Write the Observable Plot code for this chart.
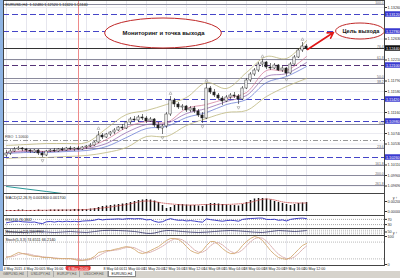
<!DOCTYPE html>
<html><head><meta charset="utf-8">
<script src="https://cdn.jsdelivr.net/npm/d3@7"></script>
<script src="https://cdn.jsdelivr.net/npm/@observablehq/plot@0.6"></script>
<style>
body{margin:0;background:#fff;}
#c{position:relative;width:400px;height:278px;overflow:hidden;background:#fff;font-family:"Liberation Sans",Arial,sans-serif;}
#c > svg, #c > div{position:absolute;left:0;}
#tabs{top:271px;height:7px;width:400px;background:#d6d3cc;display:flex;font-size:3.6px;color:#555;}
#tabs span{display:block;height:6px;line-height:6px;border-right:1px solid #aaa;padding:0 3px;box-sizing:border-box;}
#tabs span.act{background:#fff;color:#111;border:1px solid #888;border-top:none;}
#strip{top:0;left:0;width:3px;height:271px;background:#8fb4e3;z-index:5;}
</style></head><body><div id="c"></div>
<script>
// ---------- price data (EURUSD H4) ----------
const open=[1.1030,1.1034,1.1038,1.1042,1.1044,1.1042,1.1040,1.1036,1.1040,1.1034,
1.1030,1.1038,1.1040,1.1038,1.1042,1.1040,1.1044,1.1042,1.1044,1.1042,
1.1046,1.1048,1.1050,1.1056,1.1070,1.1066,1.1072,1.1076,1.1080,1.1086,
1.1084,1.1096,1.1102,1.1100,1.1106,1.1104,1.1098,1.1102,1.1090,1.1084,
1.1088,1.1112,1.1140,1.1132,1.1126,1.1128,1.1120,1.1124,1.1118,1.1110,
1.1104,1.1164,1.1156,1.1150,1.1144,1.1138,1.1146,1.1150,1.1148,1.1142,
1.1164,1.1180,1.1192,1.1200,1.1212,1.1216,1.1206,1.1204,1.1210,1.1200,
1.1204,1.1194,1.1212,1.1226,1.1240,1.1248];
const high=[1.1040,1.1042,1.1046,1.1048,1.1046,1.1044,1.1042,1.1042,1.1042,1.1038,
1.1040,1.1042,1.1044,1.1044,1.1046,1.1046,1.1048,1.1046,1.1048,1.1048,
1.1050,1.1054,1.1058,1.1078,1.1074,1.1074,1.1078,1.1084,1.1088,1.1092,
1.1098,1.1106,1.1108,1.1110,1.1112,1.1108,1.1106,1.1104,1.1096,1.1092,
1.1116,1.1148,1.1144,1.1136,1.1132,1.1130,1.1128,1.1128,1.1122,1.1116,
1.1174,1.1168,1.1162,1.1154,1.1148,1.1150,1.1154,1.1156,1.1152,1.1168,
1.1184,1.1196,1.1204,1.1216,1.1222,1.1218,1.1214,1.1214,1.1212,1.1208,
1.1206,1.1216,1.1230,1.1244,1.1256,1.1252];
const low=[1.1026,1.1030,1.1036,1.1040,1.1038,1.1036,1.1034,1.1034,1.1030,1.1026,
1.1028,1.1036,1.1036,1.1036,1.1038,1.1038,1.1040,1.1038,1.1040,1.1040,
1.1042,1.1046,1.1048,1.1054,1.1062,1.1064,1.1068,1.1072,1.1078,1.1080,
1.1082,1.1092,1.1098,1.1096,1.1100,1.1094,1.1096,1.1086,1.1080,1.1072,
1.1084,1.1108,1.1126,1.1122,1.1120,1.1116,1.1116,1.1114,1.1106,1.1094,
1.1102,1.1152,1.1146,1.1140,1.1130,1.1136,1.1142,1.1144,1.1132,1.1140,
1.1162,1.1176,1.1188,1.1196,1.1206,1.1202,1.1200,1.1202,1.1198,1.1196,
1.1188,1.1192,1.1210,1.1224,1.1236,1.1240];
const close=[1.1034,1.1038,1.1042,1.1044,1.1042,1.1040,1.1038,1.1040,1.1034,1.1030,
1.1038,1.1040,1.1038,1.1042,1.1040,1.1044,1.1042,1.1044,1.1042,1.1046,
1.1048,1.1050,1.1056,1.1070,1.1066,1.1072,1.1076,1.1080,1.1086,1.1084,
1.1096,1.1102,1.1100,1.1106,1.1104,1.1098,1.1102,1.1090,1.1084,1.1088,
1.1112,1.1140,1.1132,1.1126,1.1128,1.1120,1.1124,1.1118,1.1110,1.1104,
1.1164,1.1156,1.1150,1.1144,1.1138,1.1146,1.1150,1.1148,1.1142,1.1164,
1.1180,1.1192,1.1200,1.1212,1.1216,1.1206,1.1204,1.1210,1.1200,1.1204,
1.1194,1.1212,1.1226,1.1240,1.1248,1.1244];

// indicator lines sampled every 5 bars
const ind5=[0,5,10,15,20,25,30,35,40,45,50,55,60,65,70,75];
const maFast=[1.1036,1.1040,1.1038,1.1042,1.1046,1.1062,1.1086,1.1098,1.1096,1.1124,1.1132,1.1144,1.1156,1.1200,1.1200,1.1228];
const maMid=[1.1036,1.1038,1.1038,1.1040,1.1044,1.1054,1.1076,1.1092,1.1094,1.1114,1.1124,1.1138,1.1150,1.1188,1.1194,1.1216];
const maSlow=[1.1034,1.1036,1.1036,1.1038,1.1040,1.1048,1.1066,1.1084,1.1088,1.1106,1.1116,1.1132,1.1142,1.1176,1.1188,1.1208];
const bbUpper=[1.1050,1.1052,1.1054,1.1054,1.1056,1.1084,1.1112,1.1120,1.1132,1.1146,1.1176,1.1164,1.1196,1.1228,1.1224,1.1260];
const bbLower=[1.1024,1.1026,1.1026,1.1028,1.1030,1.1036,1.1046,1.1068,1.1068,1.1090,1.1104,1.1116,1.1120,1.1148,1.1168,1.1184];
const longMaIdx=[0,5,10,14];
const longMa=[1.0968,1.0963,1.0958,1.0954];

// horizontal levels
const solidLevels=[1.1332,1.1222,1.1184,1.1174,1.1092,1.1044,1.1010,1.0990,1.0970];
const blueDashLevels=[1.1312,1.1278,1.1142,1.1098,1.1026];
const purpleDashLevels=[1.1210];
const dashDotLevels=[1.1060];
const bidPrice=1.1244;
const fibPrices=[1.1332,1.1244,1.1222,1.1184,1.1174,1.1092,1.1044,1.1010,1.0990,1.0970];
const fibNames=["100.0","76.4","61.8","50.0","38.2","0.0","23.6","161.8","200.0","261.8"];
const priceTicks=[1.1326,1.1263,1.1221,1.1179,1.1158,1.1116,1.1074,1.1053,1.1011,1.0990,1.0969];
const markedPrices=[1.1312,1.1278,1.1210,1.1142,1.1098,1.1026,1.1244];
const markedColors=["#3a3ad0","#3a3ad0","#3a3ad0","#3a3ad0","#3a3ad0","#3a3ad0","#111111"];
const upFractals=[23,41,50,64,74];
const downFractals=[9,39,49,58,70];

// oscillators
const macdHist=[0.0002,0.0002,0.0002,0.0003,0.0003,0.0002,0.0002,0.0002,
0.0003,0.0002,0.0002,0.0003,0.0003,0.0003,0.0003,0.0003,
0.0003,0.0004,0.0004,0.0004,0.0004,0.0005,0.0006,
0.0008,0.0010,0.0011,0.0012,0.0013,0.0014,0.0015,0.0016,
0.0018,0.0020,0.0022,0.0023,0.0024,0.0023,
0.0021,0.0018,0.0012,0.0006,
0.0008,0.0012,0.0014,0.0014,0.0013,0.0012,0.0012,0.0011,0.0010,
0.0014,0.0016,0.0016,0.0015,0.0014,0.0013,0.0012,0.0012,0.0011,
0.0014,0.0018,0.0022,0.0025,0.0026,0.0026,
0.0025,0.0023,0.0020,0.0018,0.0016,0.0014,0.0012,
0.0014,0.0016,0.0017,0.0018];
const macdSignal=[0.0002,0.0002,0.00026,0.0003,0.0004,0.0008,0.0014,0.0021,0.0016,0.0013,0.0014,0.0014,0.0017,0.0025,0.0018,0.0017];
const rsi=[44,50,54,56,52,50,48,50,42,38,
52,54,50,55,52,56,53,55,52,57,
59,60,64,72,66,70,71,72,74,71,
75,76,74,76,74,66,69,55,48,52,
66,76,68,63,64,58,61,57,52,49,
74,68,64,60,56,61,63,61,56,70,
74,77,78,80,80,70,69,71,63,66,
58,70,75,78,80,76];
const momIdx=[0,4,8,12,16,20,24,28,32,36,40,44,48,52,56,60,64,68,72,75];
const mom=[57,43,57,43,57,43,71,71,57,29,71,57,43,57,71,57,43,71,57,71];
const stochK=[25,29,36,43,39,36,32,29,29,25,
25,25,21,21,21,21,21,18,14,14,
18,21,29,43,46,50,50,54,57,61,
64,61,54,43,39,43,50,57,64,75,
86,93,93,89,79,64,50,43,39,50,
68,82,82,71,57,46,39,39,50,68,
82,93,100,96,86,68,50,36,25,21,
18,25,39,54,68,75];
const stochD=[28,27,30,36,39,39,36,32,30,28,
26,25,24,22,21,21,21,20,18,16,
15,18,23,31,39,46,49,51,53,57,
61,62,60,53,46,41,44,50,57,65,
75,85,91,92,88,78,65,52,44,44,
52,67,77,78,70,58,47,41,43,52,
67,81,92,96,94,84,68,51,37,27,
21,21,27,39,54,66];

// time axis (labels under the red separator label are hidden in the original)
const gridIdx=[0,5,10,15,20,25,30,35,40,45,50,55,60,65,70,75];
const timeIdx=[0,5,10,25,30,35,40,45,50,55,60,65,70,75];
const timeLabels=["4 May 2015","4 May 20:00","5 May 16:00","8 May 04:00","11 May 00:00","11 May 20:00","12 May 16:00","13 May 12:00","14 May 08:00","15 May 04:00","18 May 00:00","18 May 20:00","19 May 16:00","20 May 12:00"];
const sepIdx=18;
const sepLabel="6 May 20:00";
const tabNames=["GBPUSD,H4","USDJPY,H4","EURJPY,H4","USDCHF,H4","EURUSD,H4"];

// ---------- build ----------
const X=[-0.75,94.5];
const FONT="Liberation Sans, Arial, sans-serif";
const candles=open.map((o,i)=>({i,o,h:high[i],l:low[i],c:close[i],up:close[i]>=o}));
const pts=(idx,vals)=>idx.map((x,k)=>({x,y:vals[k]}));
const c=document.getElementById("c");

const baseStyle={fontFamily:FONT,fontSize:"3.8px",background:"transparent",color:"#333",overflow:"visible"};

const main=Plot.plot({
  width:400,height:193,marginLeft:3,marginRight:16,marginTop:0,marginBottom:0,
  x:{domain:X,axis:null},
  y:{domain:[1.0954,1.1340],axis:"right",ticks:priceTicks,tickFormat:d=>d.toFixed(5),tickSize:2,tickPadding:1},
  style:baseStyle,
  marks:[
    Plot.ruleX(gridIdx,{stroke:"#e6e6ee"}),
    Plot.ruleY(priceTicks,{stroke:"#ebebf1"}),
    Plot.ruleY(solidLevels,{stroke:"#8a8a9c"}),
    Plot.ruleY(blueDashLevels,{stroke:"#4545c8",strokeDasharray:"6,3"}),
    Plot.ruleY(purpleDashLevels,{stroke:"#553377",strokeDasharray:"6,3"}),
    Plot.ruleY(dashDotLevels,{stroke:"#999",strokeDasharray:"5,2,1,2"}),
    Plot.ruleY([bidPrice],{stroke:"#333",strokeWidth:1.2}),
    Plot.ruleX([sepIdx],{stroke:"#ee8a8a"}),
    Plot.line(pts(longMaIdx,longMa),{x:"x",y:"y",stroke:"#2a9a9a",strokeWidth:1,clip:true}),
    Plot.line(pts(ind5,bbUpper),{x:"x",y:"y",stroke:"#bdb67c",curve:"catmull-rom",strokeWidth:0.8}),
    Plot.line(pts(ind5,bbLower),{x:"x",y:"y",stroke:"#bdb67c",curve:"catmull-rom",strokeWidth:0.8}),
    Plot.line(pts(ind5,maSlow),{x:"x",y:"y",stroke:"#5a6fd0",curve:"catmull-rom",strokeWidth:0.7}),
    Plot.line(pts(ind5,maMid),{x:"x",y:"y",stroke:"#8a5aa8",curve:"catmull-rom",strokeWidth:0.7}),
    Plot.line(pts(ind5,maFast),{x:"x",y:"y",stroke:"#d07090",curve:"catmull-rom",strokeWidth:0.7}),
    Plot.ruleX(candles,{x:"i",y1:"l",y2:"h",stroke:"#222",strokeWidth:0.6}),
    Plot.rect(candles,{x1:d=>d.i-0.28,x2:d=>d.i+0.28,y1:"o",y2:"c",fill:d=>d.up?"#fff":"#222",stroke:"#222",strokeWidth:0.5}),
    Plot.dot(upFractals,{x:d=>d,y:d=>high[d],dy:-3,symbol:"triangle",r:1.1,stroke:"#888",fill:"none",strokeWidth:0.5}),
    Plot.dot(downFractals,{x:d=>d,y:d=>low[d],dy:3,symbol:"triangle",rotate:180,r:1.1,stroke:"#888",fill:"none",strokeWidth:0.5}),
    Plot.text(fibPrices,{x:94.3,y:d=>d,text:(d,i)=>fibNames[i],textAnchor:"end",dy:-2,fill:"#666",fontSize:3.4}),
    Plot.text(["EURUSD,H4  1.12480 1.12520 1.12420 1.12440"],{frameAnchor:"top-left",dx:2,dy:3,fill:"#222",fontSize:3.8}),
    Plot.text(["FIBO  1.10600"],{x:-0.4,y:dashDotLevels[0],textAnchor:"start",dy:-4,fill:"#444",fontSize:3.6}),
    Plot.rect(markedPrices,{x1:94.6,x2:98.7,y1:d=>d-0.00055,y2:d=>d+0.00055,fill:(d,i)=>markedColors[i]}),
    Plot.text(markedPrices,{x:94.6,y:d=>d,text:d=>d.toFixed(5),textAnchor:"start",dx:1,fill:"#fff",fontSize:3.8}),
    Plot.arrow([{x1:75.25,y1:1.1242,x2:81.75,y2:1.1276}],{x1:"x1",y1:"y1",x2:"x2",y2:"y2",stroke:"#e01818",strokeWidth:1.6,headLength:6,bend:0}),
    Plot.text([{x:39.25,y:1.1274,t:"Мониторинг и точка выхода"}],{x:"x",y:"y",text:"t",fontWeight:"bold",fontSize:5.9,fill:"#111"}),
    Plot.text([{x:88.6,y:1.1278,t:"Цель выхода"}],{x:"x",y:"y",text:"t",fontWeight:"bold",fontSize:5.6,fill:"#111"}),
    Plot.frame({stroke:"#444"})
  ]
});
// ellipses behind the two bubble texts
(function(){
  const sx=main.scale("x"), sy=main.scale("y");
  const fx=d3.scaleLinear(sx.domain,sx.range), fy=d3.scaleLinear(sy.domain,sy.range);
  const bubbles=[{cx:39.25,cy:1.1274,rx:14.6,ry:0.0030},{cx:88.5,cy:1.1278,rx:6.1,ry:0.0016}];
  const kids=main.children; const ref=kids[kids.length-3];
  for(const b of bubbles){
    const e=document.createElementNS("http://www.w3.org/2000/svg","ellipse");
    e.setAttribute("cx",fx(b.cx)); e.setAttribute("cy",fy(b.cy));
    e.setAttribute("rx",Math.abs(fx(b.cx+b.rx)-fx(b.cx))); e.setAttribute("ry",Math.abs(fy(b.cy+b.ry)-fy(b.cy)));
    e.setAttribute("fill","#fff"); e.setAttribute("stroke","#c02828"); e.setAttribute("stroke-width","1");
    main.insertBefore(e,ref);
  }
})();
main.style.top="0px"; c.appendChild(main);

function panel(top,h,mb,ydom,ticks,fmt,marks){
  const p=Plot.plot({width:400,height:h+mb,marginLeft:3,marginRight:16,marginTop:0,marginBottom:mb,
    x:{domain:X,axis:null},
    y:{domain:ydom,axis:"right",ticks:ticks,tickFormat:fmt,tickSize:2,tickPadding:1},
    style:baseStyle,
    marks:[Plot.ruleX(gridIdx,{stroke:"#e8e8ee"}),Plot.ruleX([sepIdx],{stroke:"#ee8a8a"}),...marks,Plot.frame({stroke:"#444"})]});
  p.style.top=top+"px"; c.appendChild(p); return p;
}
// MACD
panel(193,22,0,[-0.0008,0.0036],[0.0020,0],d=>d.toFixed(5),[
  Plot.ruleX(macdHist,{x:(d,i)=>i,y1:0,y2:d=>d,stroke:"#111",strokeWidth:1.5}),
  Plot.line(pts(ind5,macdSignal),{x:"x",y:"y",stroke:"#c84848",strokeDasharray:"1,1.2",curve:"catmull-rom",strokeWidth:0.8}),
  Plot.text(["MACD(12,26,9) 0.001800 0.001700"],{frameAnchor:"top-left",dx:2,dy:3,fill:"#222",fontSize:3.8})
]);
// RSI
panel(215,13,0,[0,100],[70,30],d=>d,[
  Plot.ruleY([70,30],{stroke:"#aaa",strokeDasharray:"1,1"}),
  Plot.line(rsi,{x:(d,i)=>i,y:d=>d,stroke:"#2a2ac0",strokeWidth:0.9}),
  Plot.text(["RSI(14) 76.1842"],{frameAnchor:"top-left",dx:2,dy:2.5,fill:"#222",fontSize:3.6})
]);
// Momentum
panel(228,7,0,[0,100],[50],d=>d,[
  Plot.ruleY([25,50,75],{stroke:"#bbb",strokeDasharray:"1,1"}),
  Plot.line(pts(momIdx,mom),{x:"x",y:"y",stroke:"#34346a",strokeWidth:0.8,curve:"catmull-rom"}),
  Plot.text(["Momentum(14) 100.3512"],{frameAnchor:"top-left",dx:2,dy:2,fill:"#222",fontSize:3.4})
]);
// Stochastic + time axis
panel(235,30,6,[-3.6,103.6],[100,0],d=>d,[
  Plot.ruleY([20,80],{stroke:"#bbb",strokeDasharray:"1,1"}),
  Plot.line(stochD,{x:(d,i)=>i,y:d=>d,stroke:"#d09a9a",strokeDasharray:"1.2,1",strokeWidth:0.8}),
  Plot.line(stochK,{x:(d,i)=>i,y:d=>d,stroke:"#d2a870",strokeWidth:0.9}),
  Plot.text(["Stoch(5,3,3) 74.6511 66.2140"],{frameAnchor:"top-left",dx:2,dy:3,fill:"#222",fontSize:3.8}),
  Plot.text(timeIdx,{x:d=>d,y:-14,text:(d,i)=>timeLabels[i],textAnchor:"start",dx:-3,fill:"#222",fontSize:3.6}),
  Plot.rect([sepIdx],{x1:d=>d-3.1,x2:d=>d+3.15,y1:-4.8,y2:-23,fill:"#e43a3a",rx:2}),
  Plot.text([sepIdx],{x:d=>d,y:-14,text:()=>sepLabel,fill:"#fff",fontSize:3.6})
]);

const tabs=document.createElement("div"); tabs.id="tabs";
tabNames.forEach((t,i)=>{const s=document.createElement("span");s.textContent=t;if(i===tabNames.length-1)s.className="act";tabs.appendChild(s);});
c.appendChild(tabs);
const strip=document.createElement("div"); strip.id="strip"; c.appendChild(strip);
</script></body></html>
